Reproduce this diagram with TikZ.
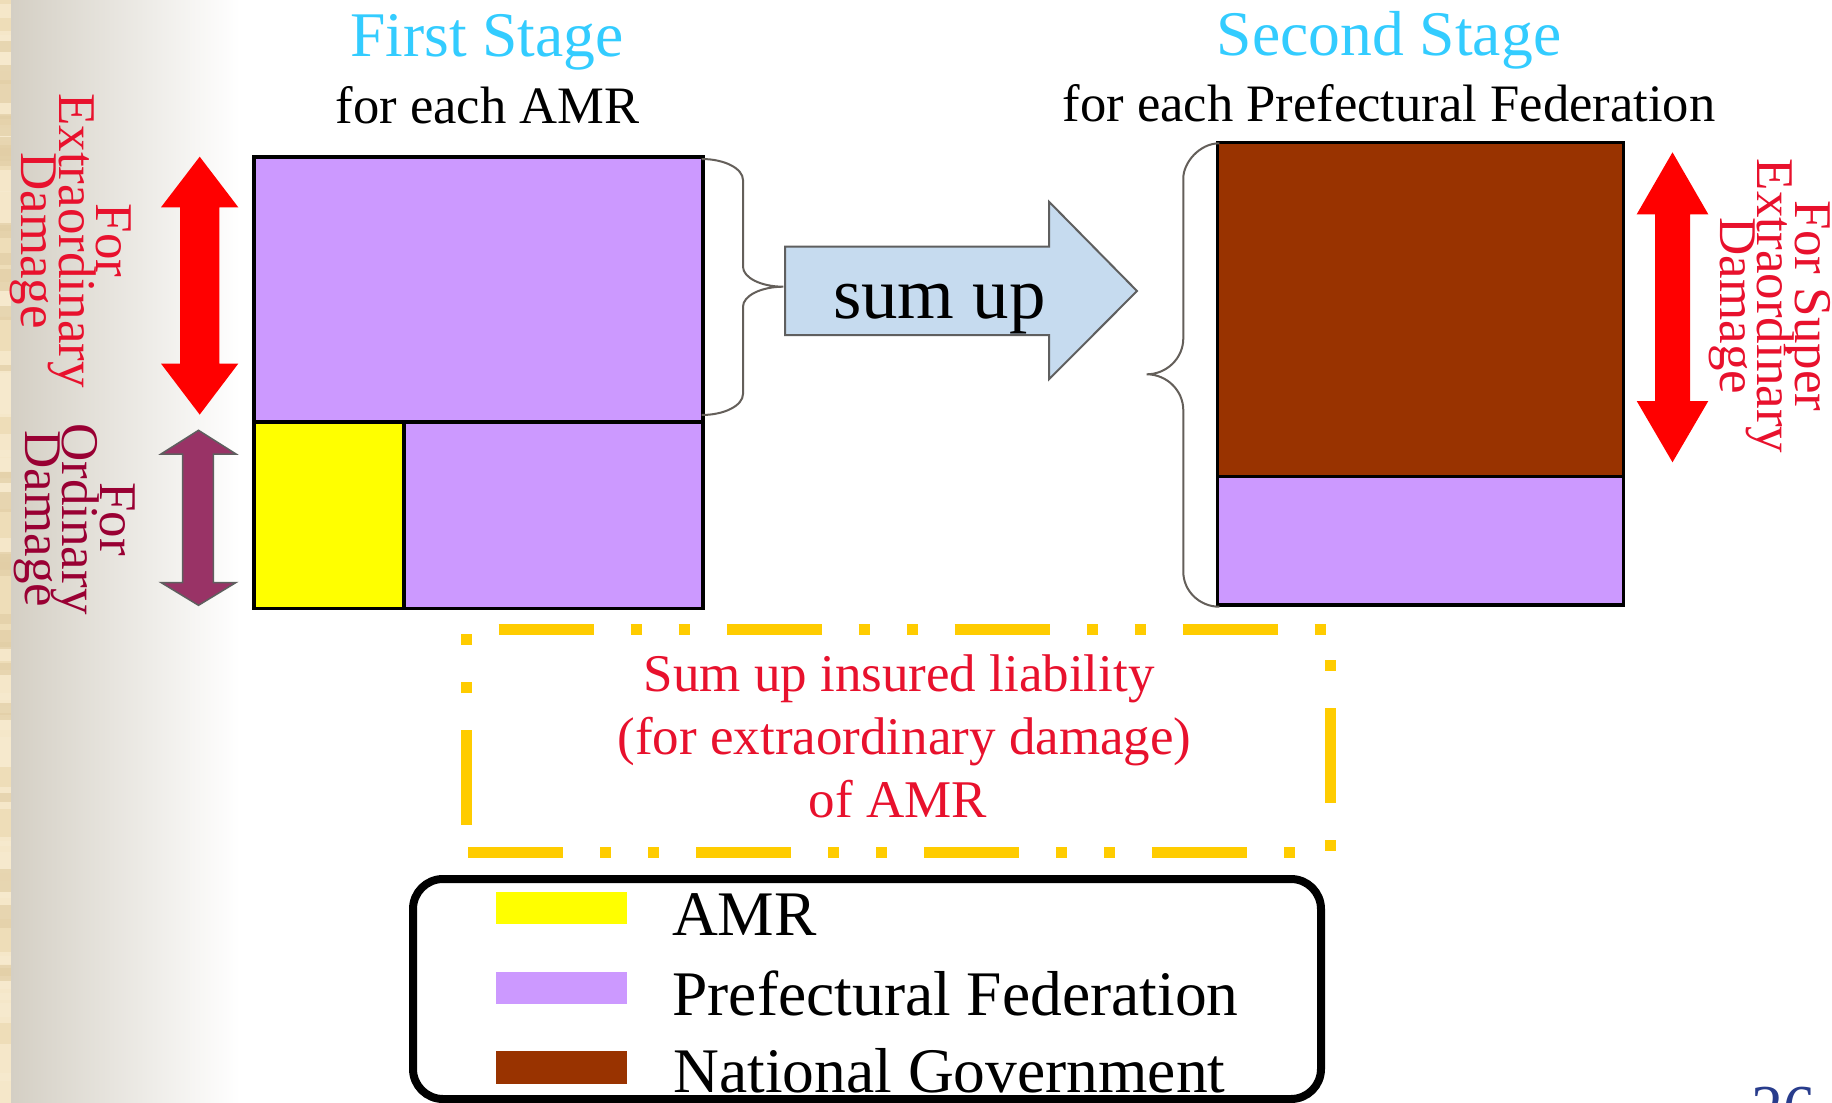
\documentclass[tikz,border=0pt]{standalone}
\usepackage{fontspec}
\setmainfont{Liberation Serif}
\definecolor{pfpurple}{RGB}{204,153,255}
\definecolor{amryellow}{RGB}{255,255,0}
\definecolor{ngbrown}{RGB}{153,51,0}
\definecolor{stagecyan}{RGB}{51,204,255}
\definecolor{txtred}{RGB}{232,17,45}
\definecolor{arrred}{RGB}{255,0,0}
\definecolor{ordcrimson}{RGB}{153,0,51}
\definecolor{ordarrow}{RGB}{153,51,102}
\definecolor{sumblue}{RGB}{198,219,239}
\definecolor{edgegray}{RGB}{95,95,95}
\definecolor{bracegray}{RGB}{100,95,90}
\definecolor{dashgold}{RGB}{255,204,0}
\definecolor{pagenum}{RGB}{40,60,140}
\definecolor{parch}{RGB}{238,221,184}
\definecolor{parchlight}{RGB}{247,234,206}
\definecolor{parchdark}{RGB}{226,206,166}
\definecolor{gradstart}{RGB}{212,207,196}
\tikzset{
  txt/.style={inner sep=0pt, outer sep=0pt, anchor=base},
  vtxt/.style={txt, rotate=-90, font=\fontsize{53}{53}\selectfont},
  cell/.style={draw=black, line width=3.5pt, anchor=north west, inner sep=0pt, outer sep=0pt},
  swatch/.style={anchor=north west, inner sep=0pt, outer sep=0pt, minimum width=131pt, minimum height=32.5pt},
  legtxt/.style={inner sep=0pt, outer sep=0pt, anchor=base west, font=\fontsize{63.5}{63.5}\selectfont},
  brace/.style={draw=bracegray, line width=2pt},
  dashbox/.style={draw=dashgold, line width=11pt, line cap=butt,
    dash pattern=on 95pt off 37pt on 11pt off 37pt on 11pt off 37pt},
}
\begin{document}
\begin{tikzpicture}[x=1pt,y=-1pt]
\useasboundingbox (0,0) rectangle (1832,1103);
% background
\fill[white] (0,0) rectangle (1832,1103);
\shade[left color=gradstart, right color=white] (11,0) rectangle (240,1103);
\fill[parch] (0,0) rectangle (11,1103);
\pgfmathsetseed{7}
\foreach \i in {1,...,45}{
  \pgfmathsetmacro\yy{rnd*1090}
  \pgfmathsetmacro\hh{8+rnd*30}
  \fill[parchlight, opacity=0.8] (0,\yy) rectangle (11,\yy+\hh);
}
\foreach \i in {1,...,30}{
  \pgfmathsetmacro\yy{rnd*1090}
  \pgfmathsetmacro\hh{5+rnd*20}
  \fill[parchdark, opacity=0.7] (0,\yy) rectangle (11,\yy+\hh);
}

% titles
\node[txt, text=stagecyan, font=\fontsize{63.6}{63.6}\selectfont] (t1) at (487,56.5) {First Stage};
\node[txt, font=\fontsize{52.6}{52.6}\selectfont] (t1s) at (487.5,123.3) {for each AMR};
\node[txt, text=stagecyan, font=\fontsize{63.6}{63.6}\selectfont] (t2) at (1389,55.5) {Second Stage};
\node[txt, font=\fontsize{52.6}{52.6}\selectfont] (t2s) at (1389,121.7) {for each Prefectural Federation};

% first stage cells
\node[cell, fill=pfpurple, minimum width=449pt, minimum height=265pt] (s1top) at (254,157) {};
\node[cell, fill=amryellow, minimum width=150pt, minimum height=186.5pt] (s1amr) at (254,422) {};
\node[cell, fill=pfpurple, minimum width=299pt, minimum height=186.5pt] (s1pf) at (404,422) {};

% second stage cells
\node[cell, fill=ngbrown, minimum width=405.6pt, minimum height=334pt] (s2ng) at (1217.7,142.7) {};
\node[cell, fill=pfpurple, minimum width=405.6pt, minimum height=128.3pt] (s2pf) at (1217.7,476.7) {};

% left double arrows
\fill[arrred] (199.7,156.7) -- (238.3,207.3) -- (219.3,207.3) -- (219.3,363.6) -- (238.3,363.6)
  -- (199.7,414.6) -- (161,363.6) -- (180,363.6) -- (180,207.3) -- (161,207.3) -- cycle;
\filldraw[fill=ordarrow, draw=edgegray, line width=1.5pt] (198.5,430.3) -- (236,454) -- (213.3,454) -- (213.3,582.5)
  -- (236,582.5) -- (198.5,605.3) -- (161,582.5) -- (182.7,582.5) -- (182.7,454) -- (161,454) -- cycle;
% right double arrow
\fill[arrred] (1672.5,152.3) -- (1708.3,214.3) -- (1690,214.3) -- (1690,401) -- (1708.3,401)
  -- (1672.5,462.3) -- (1636.7,401) -- (1655,401) -- (1655,214.3) -- (1636.7,214.3) -- cycle;

% rotated labels
\node[vtxt, text=txtred] (ex1) at (96.7,240.5) {For};
\node[vtxt, text=txtred] (ex2) at (59,240.5) {Extraordinary};
\node[vtxt, text=txtred] (ex3) at (21.5,240.5) {Damage};
\node[vtxt, text=ordcrimson] (or1) at (100,519) {For};
\node[vtxt, text=ordcrimson] (or2) at (62.5,519) {Ordinary};
\node[vtxt, text=ordcrimson] (or3) at (25.5,519) {Damage};
\node[vtxt, text=txtred] (sx1) at (1795,306) {For Super};
\node[vtxt, text=txtred] (sx2) at (1757,306) {Extraordinary};
\node[vtxt, text=txtred] (sx3) at (1720,306) {Damage};

% braces
\draw[brace] (701.7,159) .. controls (724.4,159) and (743,168.5) .. (743,180)
  -- (743,266.7) .. controls (743,277.7) and (761.1,286.7) .. (783.3,286.7)
  .. controls (761.1,286.7) and (743,295.7) .. (743,306.7)
  -- (743,394) .. controls (743,405.5) and (724.4,415) .. (701.7,415);
\draw[brace] (1219.3,143.3) .. controls (1199.5,143.3) and (1183.3,162.6) .. (1183.3,178.3)
  -- (1183.3,338.3) .. controls (1183.3,358.1) and (1166.8,374.3) .. (1146.7,374.3)
  .. controls (1166.8,374.3) and (1183.3,390.5) .. (1183.3,410.3)
  -- (1183.3,571.7) .. controls (1183.3,591) and (1199.5,606.7) .. (1219.3,606.7);

% sum up arrow
\filldraw[fill=sumblue, draw=edgegray, line width=2pt] (785,246.7) -- (1049,246.7) -- (1049,201.7)
  -- (1137,291) -- (1049,379.3) -- (1049,335) -- (785,335) -- cycle;
\node[txt, font=\fontsize{72.9}{72.9}\selectfont] (sum) at (939.5,318.5) {sum up};

% dashed box
\draw[dashbox, dash phase=195.4pt] (466,629) -- (1330,629);
\draw[dashbox, dash phase=149pt] (1330,629) -- (1330,852);
\draw[dashbox, dash phase=144.6pt] (1330,852) -- (466,852);
\draw[dashbox, dash phase=201pt] (466,852) -- (466,629);
\node[txt, text=txtred, font=\fontsize{53}{53}\selectfont] (n1) at (899,691) {Sum up insured liability};
\node[txt, text=txtred, font=\fontsize{53}{53}\selectfont] (n2) at (904.5,754) {(for extraordinary damage)};
\node[txt, text=txtred, font=\fontsize{53}{53}\selectfont] (n3) at (898,817.3) {of AMR};

% legend
\node[draw=black, line width=8pt, rounded corners=30pt, fill=white, anchor=north west,
  minimum width=908pt, minimum height=220pt, inner sep=0pt, outer sep=0pt] (legend) at (413,879) {};
\node[swatch, fill=amryellow] (swa) at (495.5,891.5) {};
\node[swatch, fill=pfpurple] (swp) at (495.5,971.5) {};
\node[swatch, fill=ngbrown] (swn) at (495.5,1051) {};
\node[legtxt] (la) at (672,935) {AMR};
\node[legtxt] (lp) at (672.5,1015) {Prefectural Federation};
\node[legtxt] (ln) at (673.5,1092) {National Government};

% page number
\node[txt, anchor=base west, text=pagenum, font=\fontsize{64}{64}\selectfont] (pg) at (1751,1129) {26};
\end{tikzpicture}
\end{document}
